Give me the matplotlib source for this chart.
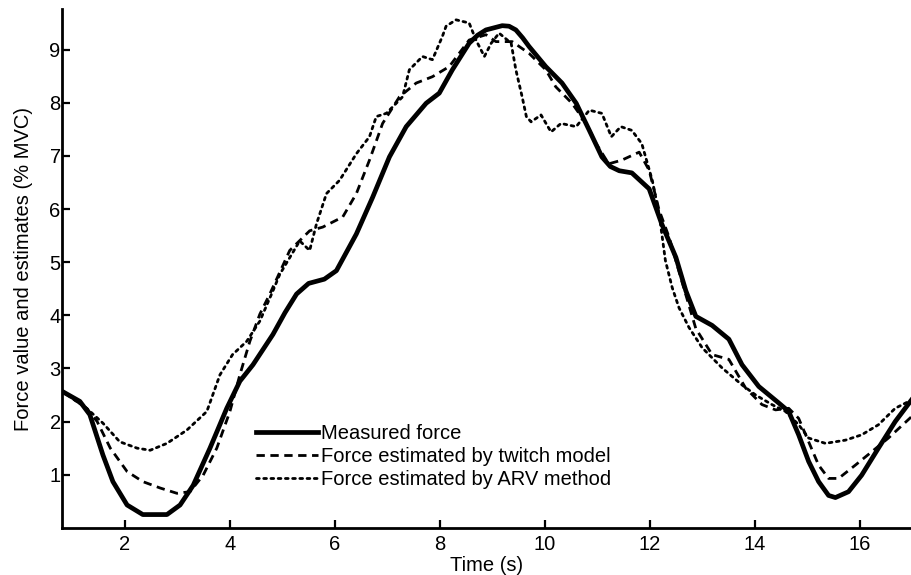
import numpy as np
import matplotlib
matplotlib.use("Agg")
import matplotlib.pyplot as plt

plt.rcParams["font.family"] = ["Liberation Sans", "DejaVu Sans"]

# measured force (% MVC) vs time (s)
t_meas = [0.8, 1.14, 1.33, 1.58, 1.77, 2.04, 2.34, 2.8, 3.05, 3.3, 3.62, 3.94,
          4.19, 4.44, 4.82, 5.05, 5.27, 5.5, 5.8, 6.03, 6.41, 6.72, 7.04, 7.36,
          7.74, 7.99, 8.24, 8.56, 8.72, 8.88, 9.19, 9.32, 9.45, 9.58, 9.70,
          10.02, 10.33, 10.6, 10.85, 11.09, 11.25, 11.42, 11.66, 11.99, 12.23,
          12.5, 12.69, 12.88, 13.19, 13.51, 13.76, 14.08, 14.46, 14.65, 14.84,
          15.03, 15.22, 15.41, 15.54, 15.79, 16.04, 16.36, 16.68, 17.0]
f_meas = [2.57, 2.38, 2.13, 1.37, 0.87, 0.43, 0.25, 0.25, 0.43, 0.80, 1.5, 2.25,
          2.76, 3.07, 3.64, 4.05, 4.40, 4.60, 4.68, 4.84, 5.53, 6.22, 6.98, 7.55,
          7.99, 8.18, 8.62, 9.12, 9.27, 9.37, 9.45, 9.44, 9.37, 9.22, 9.06,
          8.68, 8.37, 7.99, 7.48, 6.98, 6.80, 6.72, 6.68, 6.38, 5.72, 5.09,
          4.46, 3.98, 3.81, 3.55, 3.07, 2.66, 2.35, 2.19, 1.75, 1.25, 0.87,
          0.61, 0.57, 0.68, 0.99, 1.50, 2.0, 2.42]

# force estimated by twitch model
t_twitch = [0.8, 1.27, 1.47, 1.72, 2.04, 2.34, 2.67, 2.99, 3.24, 3.49, 3.75,
            4.0, 4.19, 4.38, 4.57, 4.76, 5.14, 5.52, 5.77, 6.15, 6.41, 6.66,
            6.91, 7.23, 7.55, 7.86, 8.18, 8.56, 8.88, 9.07, 9.38, 9.70, 10.02,
            10.21, 10.52, 10.79, 10.98, 11.22, 11.47, 11.8, 11.99, 12.18,
            12.37, 12.61, 12.88, 13.19, 13.51, 13.83, 14.14, 14.40, 14.65,
            14.84, 15.03, 15.22, 15.41, 15.60, 15.92, 16.23, 16.55, 17.0]
f_twitch = [2.57, 2.25, 2.0, 1.5, 1.06, 0.87, 0.75, 0.65, 0.68, 0.99, 1.5,
            2.19, 2.88, 3.51, 4.02, 4.40, 5.22, 5.59, 5.66, 5.85, 6.29, 6.92,
            7.61, 8.11, 8.37, 8.49, 8.68, 9.18, 9.28, 9.15, 9.15, 8.93, 8.62,
            8.30, 7.99, 7.61, 7.23, 6.85, 6.92, 7.07, 6.73, 5.98, 5.47, 4.65,
            3.75, 3.26, 3.17, 2.63, 2.32, 2.22, 2.25, 2.06, 1.62, 1.18, 0.93,
            0.93, 1.18, 1.43, 1.69, 2.10]

# force estimated by ARV method
t_arv = [0.8, 1.27, 1.58, 1.90, 2.23, 2.48, 2.80, 3.18, 3.56, 3.81, 4.05,
         4.32, 4.57, 4.82, 4.95, 5.33, 5.52, 5.65, 5.84, 6.09, 6.41, 6.66,
         6.79, 6.98, 7.29, 7.42, 7.67, 7.86, 8.05, 8.12, 8.31, 8.56, 8.69,
         8.85, 8.98, 9.13, 9.36, 9.45, 9.57, 9.65, 9.74, 9.93, 10.12, 10.31,
         10.60, 10.85, 11.09, 11.27, 11.45, 11.66, 11.85, 12.05, 12.18, 12.30,
         12.43, 12.56, 12.75, 13.0, 13.38, 13.76, 14.02, 14.33, 14.59, 14.84,
         15.03, 15.35, 15.73, 16.04, 16.36, 16.68, 17.0]
f_arv = [2.57, 2.25, 1.97, 1.62, 1.5, 1.46, 1.59, 1.84, 2.19, 2.88, 3.26,
         3.51, 3.89, 4.46, 4.77, 5.40, 5.22, 5.72, 6.29, 6.54, 7.04, 7.36,
         7.74, 7.80, 8.11, 8.62, 8.87, 8.81, 9.25, 9.44, 9.56, 9.50, 9.18,
         8.87, 9.12, 9.31, 9.12, 8.62, 8.11, 7.74, 7.64, 7.77, 7.45, 7.61,
         7.55, 7.86, 7.80, 7.36, 7.55, 7.48, 7.23, 6.54, 5.91, 5.03,
         4.52, 4.14, 3.77, 3.39, 3.01, 2.69, 2.50, 2.32, 2.19, 1.94,
         1.69, 1.59, 1.65, 1.75, 1.94, 2.25, 2.41]

fig = plt.figure(figsize=(9.12, 5.75), dpi=100)
ax = fig.add_axes([0.068, 0.082, 0.932, 0.902])

ax.plot(t_meas, f_meas, "-", color="black", lw=3.4,
        solid_joinstyle="round", label="Measured force")
ax.plot(t_twitch, f_twitch, color="black", lw=2.0, dashes=(3, 2),
        label="Force estimated by twitch model")
ax.plot(t_arv, f_arv, color="black", lw=2.0, linestyle=(0, (1, 1.6)),
        dash_capstyle="round", label="Force estimated by ARV method")

ax.set_xlim(0.8, 17.0)
ax.set_ylim(0, 9.76)
ax.set_xticks([2, 4, 6, 8, 10, 12, 14, 16])
ax.set_yticks([1, 2, 3, 4, 5, 6, 7, 8, 9])

for s in ("top", "right"):
    ax.spines[s].set_visible(False)
for s in ("left", "bottom"):
    ax.spines[s].set_linewidth(2.0)
ax.tick_params(direction="in", length=5.5, width=1.6, labelsize=14.5)
ax.tick_params(axis="y", pad=1)
ax.tick_params(axis="x", pad=5)

ax.set_xlabel("Time (s)", fontsize=14.5, labelpad=1.5)
ax.set_ylabel("Force value and estimates (% MVC)", fontsize=14.5, labelpad=12)

ax.legend(loc="upper left", bbox_to_anchor=(0.228, 0.201), frameon=False,
          fontsize=14.5, handlelength=3.1, handletextpad=0.15, labelspacing=0.2,
          borderpad=0, borderaxespad=0)

fig.savefig("out.png", dpi=100)
